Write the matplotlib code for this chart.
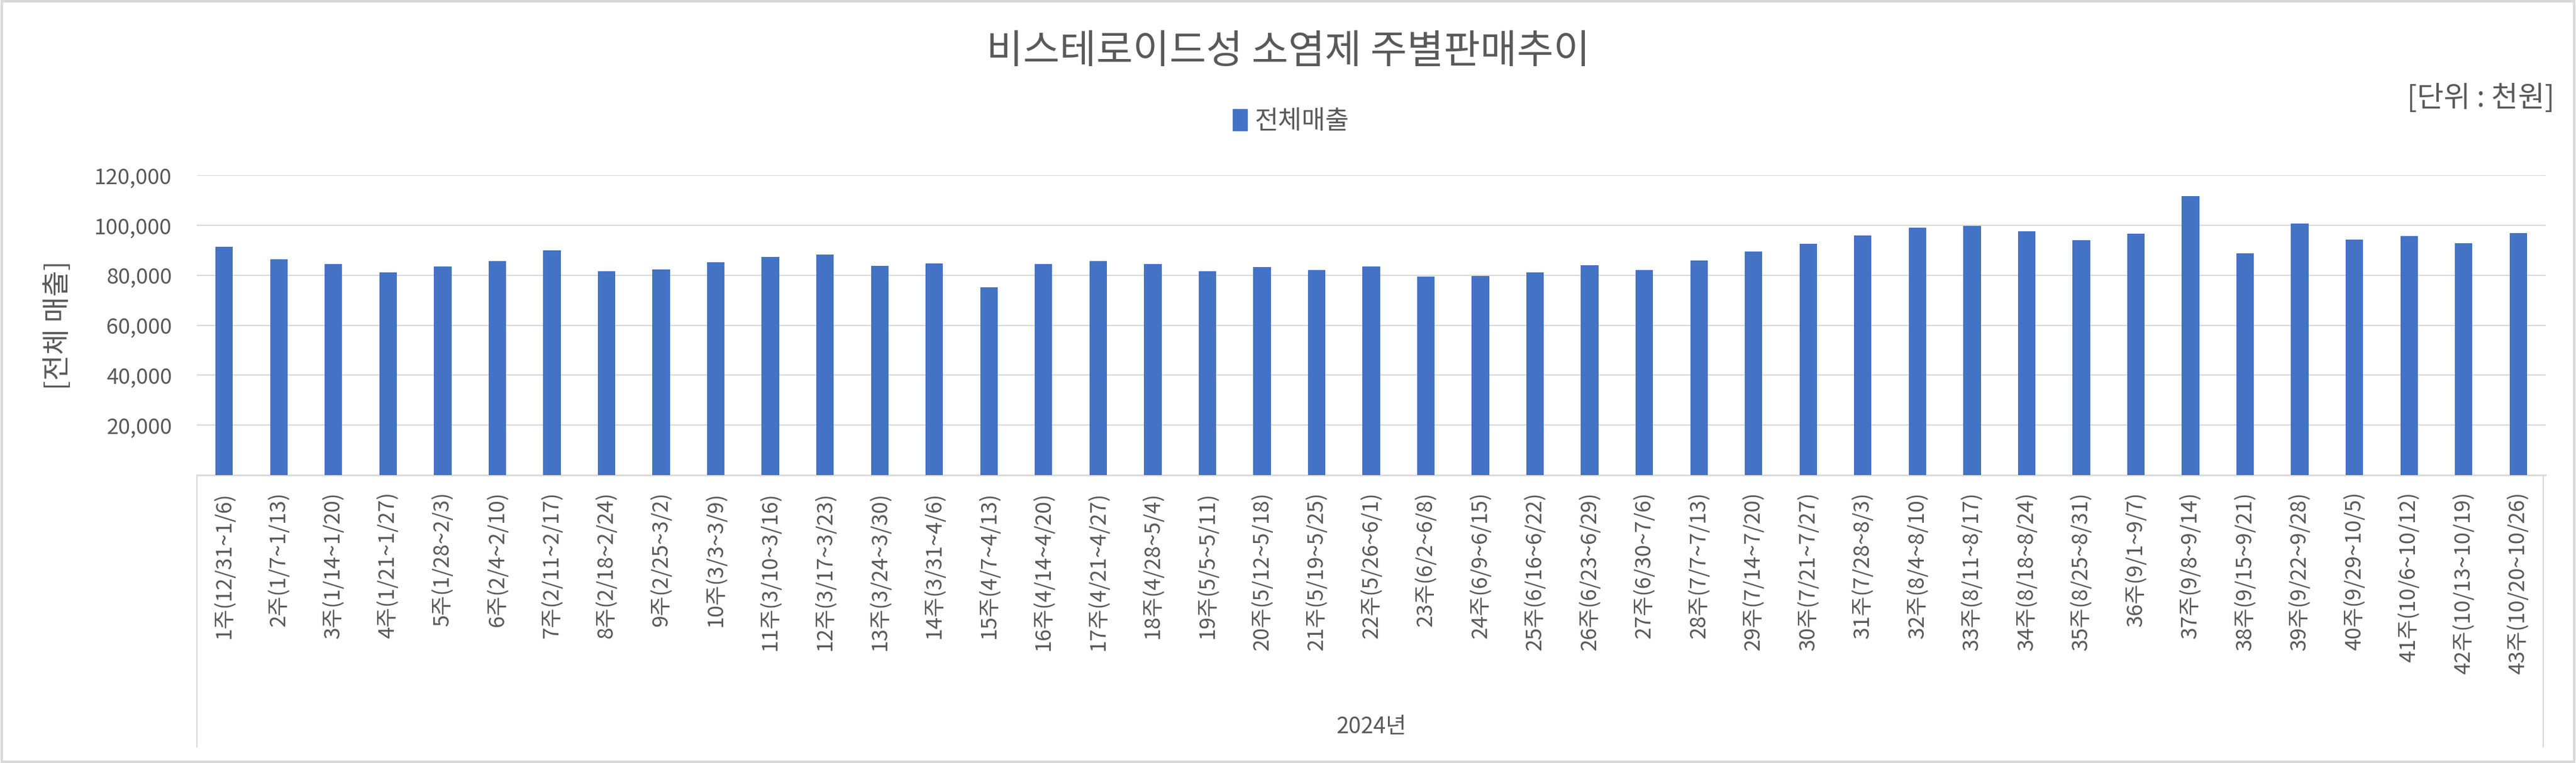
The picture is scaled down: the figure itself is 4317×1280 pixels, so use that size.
import matplotlib
matplotlib.use('Agg')
import matplotlib.pyplot as plt
from matplotlib.patches import Patch, Rectangle

plt.rcParams['font.family'] = ['Noto Sans CJK KR', 'DejaVu Sans']

weeks = ['1주(12/31~1/6)', '2주(1/7~1/13)', '3주(1/14~1/20)', '4주(1/21~1/27)', '5주(1/28~2/3)',
         '6주(2/4~2/10)', '7주(2/11~2/17)', '8주(2/18~2/24)', '9주(2/25~3/2)', '10주(3/3~3/9)',
         '11주(3/10~3/16)', '12주(3/17~3/23)', '13주(3/24~3/30)', '14주(3/31~4/6)', '15주(4/7~4/13)',
         '16주(4/14~4/20)', '17주(4/21~4/27)', '18주(4/28~5/4)', '19주(5/5~5/11)', '20주(5/12~5/18)',
         '21주(5/19~5/25)', '22주(5/26~6/1)', '23주(6/2~6/8)', '24주(6/9~6/15)', '25주(6/16~6/22)',
         '26주(6/23~6/29)', '27주(6/30~7/6)', '28주(7/7~7/13)', '29주(7/14~7/20)', '30주(7/21~7/27)',
         '31주(7/28~8/3)', '32주(8/4~8/10)', '33주(8/11~8/17)', '34주(8/18~8/24)', '35주(8/25~8/31)',
         '36주(9/1~9/7)', '37주(9/8~9/14)', '38주(9/15~9/21)', '39주(9/22~9/28)', '40주(9/29~10/5)',
         '41주(10/6~10/12)', '42주(10/13~10/19)', '43주(10/20~10/26)']

sales = [91300, 86400, 84400, 81100, 83500, 85700, 90000, 81700, 82300, 85100,
         87300, 88200, 83700, 84700, 75200, 84500, 85700, 84500, 81700, 83300,
         82000, 83500, 79500, 79700, 81100, 83900, 82000, 85800, 89400, 92500,
         95900, 99000, 99700, 97500, 94000, 96600, 111700, 88800, 100600, 94200,
         95600, 92800, 96900]

y_ticks = [20000, 40000, 60000, 80000, 100000, 120000]

text_col = '#595959'
grid_col = '#d9d9d9'
bar_col = '#4472c4'

W, H = 4317, 1280
fig = plt.figure(figsize=(W / 100, H / 100), dpi=100)
ax = fig.add_axes([330 / W, 1 - 797 / H, (4266 - 330) / W, (797 - 294) / H])

x = range(len(sales))
ax.bar(x, sales, width=0.32, color=bar_col, zorder=3)
ax.set_xlim(-0.5, len(sales) - 0.5)
ax.set_ylim(0, 120000)
ax.set_yticks(y_ticks)
ax.set_yticklabels([f'{v:,}' for v in y_ticks])
ax.set_xticks(list(x))
ax.set_xticklabels(weeks, rotation=90, va='top', ha='center')
ax.tick_params(axis='y', length=0, pad=30, labelsize=26, labelcolor=text_col)
ax.tick_params(axis='x', length=0, pad=20, labelsize=26, labelcolor=text_col)
ax.grid(axis='y', color=grid_col, linewidth=1.5, zorder=0)
for s in ['top', 'right', 'left']:
    ax.spines[s].set_visible(False)
ax.spines['bottom'].set_color(grid_col)
ax.spines['bottom'].set_linewidth(2)

# category table borders
depth = (1253 - 797) / (797 - 294)
ax.plot([0, 0], [0, -depth], transform=ax.transAxes, clip_on=False, color=grid_col, linewidth=1.5)
ax.plot([0.999, 0.999], [0, -depth], transform=ax.transAxes, clip_on=False, color=grid_col, linewidth=1.5)

ax.set_ylabel('[전체 매출]', fontsize=34, color=text_col)
ax.yaxis.set_label_coords(-(330 - 122) / (4266 - 330), 0.5)

fig.text(0.5, 1 - 87 / H, '비스테로이드성 소염제 주별판매추이', ha='center', va='center',
         fontsize=48, color=text_col)
fig.text(4281 / W, 1 - 165 / H, '[단위 : 천원]', ha='right', va='center', fontsize=35, color=text_col)
fig.text(2298 / W, 1 - 1220 / H, '2024년', ha='center', va='center', fontsize=27, color=text_col)

fig.legend(handles=[Patch(color=bar_col, label='전체매출')], loc='center',
           bbox_to_anchor=(2164 / W, 1 - 204 / H), frameon=False, fontsize=31,
           handlelength=0.55, handleheight=0.9, handletextpad=0.3, labelcolor=text_col)

fig.add_artist(Rectangle((0.0008, 0.0015), 0.9984, 0.997, transform=fig.transFigure,
                         fill=False, edgecolor=grid_col, linewidth=3))

plt.savefig('out.png', dpi=100)
